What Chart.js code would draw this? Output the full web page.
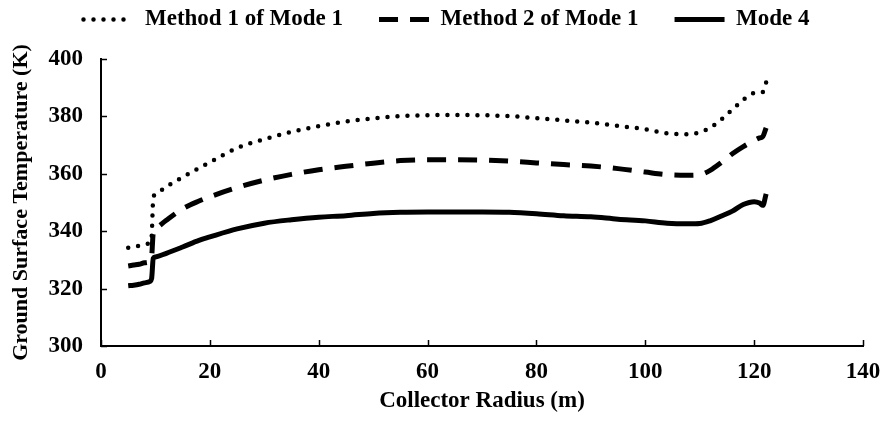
<!DOCTYPE html>
<html>
<head>
<meta charset="utf-8">
<script src="https://cdn.jsdelivr.net/npm/chart.js@4"></script>
<style>
  html, body { margin: 0; padding: 0; background: #fff; }
  #wrap { width: 881px; height: 421px; position: relative; }
</style>
</head>
<body>
<div id="wrap"><canvas id="chart"></canvas></div>
<script>
/* 資料：集熱器半徑 (m) 與地表溫度 (K) */
var radius = [5, 6, 7, 8, 9, 9.3, 9.6, 10, 12, 15, 18, 20, 25, 30, 35, 40, 45, 50, 55, 60,
  65, 70, 75, 80, 85, 90, 95, 100, 104, 108, 110, 112, 114, 116, 118, 120, 121, 121.6, 122.2];

var method1Mode1 = [334.2, 334.5, 334.9, 335.4, 336, 338, 351.5, 352.8, 355.5, 358.8, 362, 364,
  369, 372, 374.6, 376.6, 378.2, 379.3, 380.1, 380.4, 380.5, 380.4, 380.1, 379.4, 378.6, 377.8,
  376.7, 375.5, 374.1, 373.8, 374.5, 376.2, 379, 382.4, 385.8, 388.2, 388.4, 388.5, 391.8];

var method2Mode1 = [327.9, 328.2, 328.5, 329, 329.5, 331, 339.5, 340.8, 343.8, 347.8, 350.5, 352,
  355.2, 357.8, 359.8, 361.4, 362.6, 363.7, 364.6, 364.9, 364.9, 364.8, 364.4, 363.8, 363.2, 362.7,
  361.8, 360.6, 359.7, 359.5, 359.7, 361.3, 364, 367, 369.5, 371.6, 372.5, 373, 376];

var mode4 = [321, 321.2, 321.5, 322, 322.5, 323.5, 330.5, 331, 332.3, 334.5, 336.8, 338,
  340.8, 342.8, 344, 344.9, 345.4, 346.2, 346.6, 346.7, 346.7, 346.7, 346.6, 346.1, 345.4, 345,
  344.2, 343.6, 342.8, 342.6, 342.7, 343.7, 345.3, 347, 349.3, 350.3, 349.8, 349, 353];

var xTicks = [0, 20, 40, 60, 80, 100, 120, 140];
var yTicks = [300, 320, 340, 360, 380, 400];

var FONT = '"Liberation Serif", "Times New Roman", serif';

function toPoints(ys) {
  return radius.map(function (r, i) { return { x: r, y: ys[i] }; });
}

// 刻度線畫在座標軸內側
var innerTicks = {
  id: 'innerTicks',
  afterDraw: function (chart) {
    var ctx = chart.ctx;
    var xs = chart.scales.x, ys = chart.scales.y;
    var area = chart.chartArea;
    ctx.save();
    ctx.strokeStyle = '#000';
    ctx.lineWidth = 1.5;
    xTicks.forEach(function (v) {
      var px = Math.round(xs.getPixelForValue(v)) + 0.5;
      ctx.beginPath();
      ctx.moveTo(px, area.bottom);
      ctx.lineTo(px, area.bottom - 6);
      ctx.stroke();
    });
    yTicks.forEach(function (v) {
      var py = Math.round(ys.getPixelForValue(v)) + 0.5;
      ctx.beginPath();
      ctx.moveTo(area.left, py);
      ctx.lineTo(area.left + 6, py);
      ctx.stroke();
    });
    ctx.restore();
  },
};

// 圖例：固定高度，整體往上、往右移一點
var legendTweak = {
  id: 'legendTweak',
  afterInit: function (chart) {
    var lg = chart.legend;
    var fit = lg.fit;
    lg.fit = function () {
      fit.call(this);
      this.height = 59;
    };
    var draw = lg.draw;
    lg.draw = function () {
      var ctx = this.ctx;
      ctx.save();
      ctx.translate(15, -28);
      draw.call(this);
      ctx.restore();
    };
  },
};

function legendLabels(chart) {
  return chart.data.datasets.map(function (ds, i) {
    return {
      text:        ds.label,
      datasetIndex: i,
      hidden:      false,
      fillStyle:   '#000',
      strokeStyle: '#000',
      fontColor:   '#000',
      lineWidth:   ds.borderWidth,
      lineDash:    ds.borderDash || [],
      lineCap:     ds.borderCapStyle,
      pointStyle:  'line',
    };
  });
}

var common = {
  borderColor: '#000',
  backgroundColor: '#000',
  pointRadius: 0,
  fill: false,
  cubicInterpolationMode: 'monotone',
};

new Chart(document.getElementById('chart'), {
  type: 'line',
  data: {
    datasets: [
      Object.assign({}, common, {
        label: 'Method 1 of Mode 1',
        data: toPoints(method1Mode1),
        borderWidth: 4.5,
        borderDash: [0, 10],
        borderCapStyle: 'round',
      }),
      Object.assign({}, common, {
        label: 'Method 2 of Mode 1',
        data: toPoints(method2Mode1),
        borderWidth: 5,
        borderDash: [19, 12],
        borderCapStyle: 'butt',
      }),
      Object.assign({}, common, {
        label: 'Mode 4',
        data: toPoints(mode4),
        borderWidth: 5,
        borderCapStyle: 'butt',
      }),
    ],
  },
  plugins: [innerTicks, legendTweak],
  options: {
    responsive: true,
    maintainAspectRatio: false,
    animation: false,
    layout: { padding: { top: 0, right: 18, bottom: 0, left: 0 } },
    plugins: {
      legend: {
        position: 'top',
        labels: {
          usePointStyle: true,
          pointStyleWidth: 50,
          padding: 36,
          color: '#000',
          generateLabels: legendLabels,
          font: { family: FONT, size: 23, weight: 'bold' },
        },
      },
      tooltip: { enabled: false },
    },
    scales: {
      x: {
        type: 'linear',
        min: 0,
        max: 140,
        afterBuildTicks: function (s) { s.ticks = xTicks.map(function (v) { return { value: v }; }); },
        afterFit: function (s) { s.height = 75; s.paddingRight = 0; s.paddingLeft = 0; },
        grid: { display: false, drawTicks: false },
        border: { color: '#000', width: 2 },
        ticks: {
          padding: 12,
          color: '#000',
          maxRotation: 0,
          font: { family: FONT, size: 23, weight: 'bold' },
        },
        title: {
          display: true,
          text: 'Collector Radius (m)',
          color: '#000',
          padding: { top: 2, bottom: 6 },
          font: { family: FONT, size: 23, weight: 'bold' },
        },
      },
      y: {
        min: 300,
        max: 400,
        afterBuildTicks: function (s) { s.ticks = yTicks.map(function (v) { return { value: v }; }); },
        afterFit: function (s) { s.width = 101; },
        grid: { display: false, drawTicks: false },
        border: { color: '#000', width: 2 },
        ticks: {
          padding: 18,
          color: '#000',
          font: { family: FONT, size: 23, weight: 'bold' },
        },
        title: {
          display: true,
          text: 'Ground Surface Temperature (K)',
          color: '#000',
          padding: { top: 8, bottom: 0 },
          font: { family: FONT, size: 22, weight: 'bold' },
        },
      },
    },
  },
});
</script>
</body>
</html>
